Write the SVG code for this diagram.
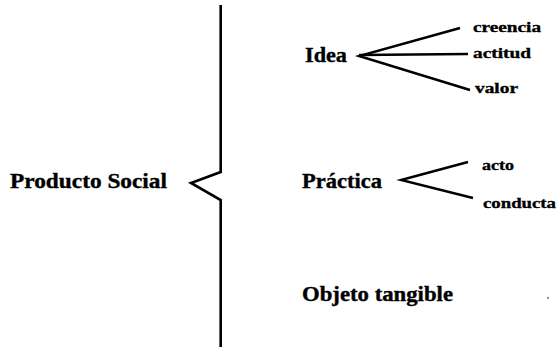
<svg xmlns="http://www.w3.org/2000/svg" width="558" height="350" viewBox="0 0 558 350">
<style>
.t{font-family:"Liberation Serif","Times New Roman",serif;font-weight:bold;fill:#000;stroke:#000;stroke-width:0.35}
.big{font-size:20px}
.sm{font-size:15px}
.ln{fill:none;stroke:#000;stroke-width:2.6;stroke-linejoin:miter;stroke-linecap:butt}
.br{stroke-width:2.4}
</style>
<rect width="558" height="350" fill="#fff"/>
<g id="producto-social"><text class="t big" x="10" y="188" textLength="157" lengthAdjust="spacingAndGlyphs">Producto Social</text></g>
<g id="idea"><text class="t big" x="305" y="62" textLength="42" lengthAdjust="spacingAndGlyphs">Idea</text></g>
<g id="creencia"><text class="t sm" x="473" y="32" textLength="68" lengthAdjust="spacingAndGlyphs">creencia</text></g>
<g id="actitud"><text class="t sm" x="473" y="58" textLength="58" lengthAdjust="spacingAndGlyphs">actitud</text></g>
<g id="valor"><text class="t sm" x="475" y="93" textLength="43" lengthAdjust="spacingAndGlyphs">valor</text></g>
<g id="practica"><text class="t big" x="302" y="188" textLength="80" lengthAdjust="spacingAndGlyphs">Práctica</text></g>
<g id="acto"><text class="t sm" x="482" y="170" textLength="32" lengthAdjust="spacingAndGlyphs">acto</text></g>
<g id="conducta"><text class="t sm" x="483" y="208" textLength="73" lengthAdjust="spacingAndGlyphs">conducta</text></g>
<g id="objeto-tangible"><text class="t big" x="302" y="301" textLength="151" lengthAdjust="spacingAndGlyphs">Objeto tangible</text></g>
<g id="connectors">
<polyline class="ln" points="220.7,5 220.7,172 191,183 220.7,200 220.7,347"/>
<polyline class="ln br" points="460,28 359,56 470,90"/>
<line class="ln br" x1="359" y1="55" x2="468" y2="54"/>
<polyline class="ln br" points="468,162 401,180 473,198"/>
</g>
<circle cx="548" cy="298" r="0.8" fill="#000"/>
</svg>
